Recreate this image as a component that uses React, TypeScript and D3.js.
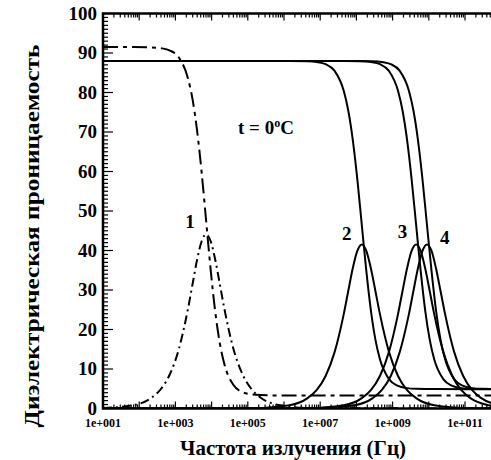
import React from "react";
import * as d3 from "d3";

// ---- Data (frequency in Hz, permittivity) ----
// Curve 1 (dash-dot)
const freq1 = [1e1, 7.08e1, 2.24e2, 3.98e2, 7.08e2, 1.26e3, 2.24e3, 2.99e3, 3.98e3, 5.31e3, 7.08e3, 9.44e3, 1.26e4, 1.68e4, 2.24e4, 3.98e4, 7.08e4, 1.26e5, 2.24e5, 7.08e5, 7.08e6, 1e12];
const eps1Real = [91.5, 91.49, 91.41, 91.22, 90.62, 88.8, 83.48, 78.18, 70.31, 59.75, 47.4, 35.05, 24.49, 16.62, 11.32, 6.0, 4.17, 3.58, 3.39, 3.31, 3.3, 3.3];
const eps1Imag = [0.12, 0.88, 2.79, 4.94, 8.73, 15.21, 25.36, 31.58, 37.68, 42.34, 44.1, 42.34, 37.68, 31.58, 25.36, 15.21, 8.73, 4.94, 2.79, 0.88, 0.09, 0];

// Curve 2
const freq2 = [1e1, 1e4, 1.41e5, 1.41e6, 4.47e6, 7.94e6, 1.41e7, 2.51e7, 4.47e7, 5.96e7, 7.94e7, 1.06e8, 1.41e8, 1.88e8, 2.51e8, 3.35e8, 4.47e8, 7.94e8, 1.41e9, 2.51e9, 4.47e9, 1.41e10, 1.41e11, 1e12];
const eps2Real = [88, 88, 88, 87.99, 87.92, 87.73, 87.17, 85.46, 80.45, 75.45, 68.03, 58.08, 46.45, 34.82, 24.87, 17.45, 12.45, 7.44, 5.72, 5.16, 4.98, 4.91, 4.9, 4.9];
const eps2Imag = [0, 0.01, 0.08, 0.83, 2.63, 4.65, 8.23, 14.33, 23.89, 29.75, 35.5, 39.89, 41.55, 39.89, 35.5, 29.75, 23.89, 14.33, 8.23, 4.65, 2.63, 0.83, 0.08, 0.01];

// Curve 3
const freq3 = [1e1, 1e5, 4.47e6, 4.47e7, 1.41e8, 2.51e8, 4.47e8, 7.94e8, 1.41e9, 1.88e9, 2.51e9, 3.35e9, 4.47e9, 5.96e9, 7.94e9, 1.06e10, 1.41e10, 2.51e10, 4.47e10, 7.94e10, 1.41e11, 4.47e11, 1e12];
const eps3Real = [88, 88, 88, 87.99, 87.92, 87.73, 87.17, 85.46, 80.45, 75.45, 68.03, 58.08, 46.45, 34.82, 24.87, 17.45, 12.45, 7.44, 5.72, 5.16, 4.98, 4.91, 4.9];
const eps3Imag = [0, 0, 0.08, 0.83, 2.63, 4.65, 8.23, 14.33, 23.89, 29.75, 35.5, 39.89, 41.55, 39.89, 35.5, 29.75, 23.89, 14.33, 8.23, 4.65, 2.63, 0.83, 0.37];

// Curve 4
const freq4 = [1e1, 1e5, 8.91e6, 8.91e7, 2.82e8, 5.01e8, 8.91e8, 1.58e9, 2.82e9, 3.76e9, 5.01e9, 6.68e9, 8.91e9, 1.19e10, 1.58e10, 2.11e10, 2.82e10, 5.01e10, 8.91e10, 1.58e11, 2.82e11, 8.91e11, 1e12];
const eps4Real = [88, 88, 88, 87.99, 87.92, 87.73, 87.17, 85.46, 80.45, 75.45, 68.03, 58.08, 46.45, 34.82, 24.87, 17.45, 12.45, 7.44, 5.72, 5.16, 4.98, 4.91, 4.9];
const eps4Imag = [0, 0, 0.08, 0.83, 2.63, 4.65, 8.23, 14.33, 23.89, 29.75, 35.5, 39.89, 41.55, 39.89, 35.5, 29.75, 23.89, 14.33, 8.23, 4.65, 2.63, 0.83, 0.74];

// Curve number labels: [frequency, value]
const curveLabels = ["1", "2", "3", "4"];
const curveLabelFreq = [2.53e3, 5.4e7, 1.87e9, 2.75e10];
const curveLabelValue = [45.7, 42.75, 43.1, 41.67];

const xLabelExponents = [1, 3, 5, 7, 9, 11];
const yTickValues = [0, 10, 20, 30, 40, 50, 60, 70, 80, 90, 100];

const xTitle = "Частота излучения (Гц)";
const yTitle = "Диэлектрическая проницаемость";

const FONT = "Liberation Serif, Tinos, Times New Roman, DejaVu Serif, serif";

export default function App() {
  const W = 491;
  const H = 460;
  const left = 103;
  const top = 13.5;
  const bottom = 408.5;
  const decadePx = 36.2;

  const x = d3.scaleLog().domain([1e1, 1e12]).range([left, left + 11 * decadePx]);
  const y = d3.scaleLinear().domain([0, 100]).range([bottom, top]);
  const right = x(1e12);

  const line = (fr: number[], vals: number[]) =>
    d3
      .line<number>()
      .x((_, i) => x(fr[i]))
      .y((v) => y(v))
      .curve(d3.curveMonotoneX)(vals) || "";

  const series = [
    { d: line(freq1, eps1Real), dash: "15,5,4,5" },
    { d: line(freq1, eps1Imag), dash: "9,4,2,4" },
    { d: line(freq2, eps2Real), dash: undefined },
    { d: line(freq2, eps2Imag), dash: undefined },
    { d: line(freq3, eps3Real), dash: undefined },
    { d: line(freq3, eps3Imag), dash: undefined },
    { d: line(freq4, eps4Real), dash: undefined },
    { d: line(freq4, eps4Imag), dash: undefined },
  ];

  const allXTicks = x.ticks(200);
  const isDecade = (t: number) => Math.abs(Math.log10(t) - Math.round(Math.log10(t))) < 1e-9;
  const xMajor = allXTicks.filter(isDecade);
  const xMinor = allXTicks.filter((t) => !isDecade(t));
  const yMinor = d3.range(0, 101, 1).filter((v) => v % 10 !== 0);

  return (
    <svg
      width={W}
      height={H}
      style={{ position: "absolute", left: 0, top: 0, fontFamily: FONT, fontWeight: 700 }}
    >
      <defs>
        <clipPath id="plotClip">
          <rect x={left} y={top} width={right - left} height={bottom - top} />
        </clipPath>
      </defs>
      <rect x={0} y={0} width={W} height={H} fill="#fff" />

      <g clipPath="url(#plotClip)">
        {series.map((s, i) => (
          <path
            key={i}
            d={s.d}
            fill="none"
            stroke="#000"
            strokeWidth={2}
            strokeDasharray={s.dash}
          />
        ))}
      </g>

      {/* ticks */}
      <g stroke="#000" strokeWidth={1.2}>
        {xMinor.map((t, i) => (
          <g key={"xm" + i}>
            <line x1={x(t)} x2={x(t)} y1={bottom} y2={bottom - 4} />
            <line x1={x(t)} x2={x(t)} y1={top} y2={top + 4} />
          </g>
        ))}
        {xMajor.map((t, i) => (
          <g key={"xM" + i}>
            <line x1={x(t)} x2={x(t)} y1={bottom} y2={bottom - 7} />
            <line x1={x(t)} x2={x(t)} y1={top} y2={top + 7} />
          </g>
        ))}
        {yMinor.map((v, i) => (
          <line key={"ym" + i} x1={left} x2={left + 5} y1={y(v)} y2={y(v)} />
        ))}
        {yTickValues.map((v, i) => (
          <line key={"yM" + i} x1={left} x2={left + 10} y1={y(v)} y2={y(v)} />
        ))}
      </g>

      {/* frame */}
      <rect
        x={left}
        y={top}
        width={right - left}
        height={bottom - top}
        fill="none"
        stroke="#000"
        strokeWidth={2.5}
      />

      {/* y tick labels */}
      {yTickValues.map((v) => (
        <text key={"yl" + v} x={left - 6} y={y(v)} dy="0.33em" textAnchor="end" fontSize={19}>
          {v}
        </text>
      ))}

      {/* x tick labels */}
      {xLabelExponents.map((e) => (
        <text key={"xl" + e} x={x(Math.pow(10, e))} y={427} textAnchor="middle" fontSize={12}>
          {`1e+${String(e).padStart(3, "0")}`}
        </text>
      ))}

      {/* curve labels */}
      {curveLabels.map((l, i) => (
        <text key={"cl" + i} x={x(curveLabelFreq[i])} y={y(curveLabelValue[i])} textAnchor="middle" fontSize={19}>
          {l}
        </text>
      ))}

      {/* temperature annotation */}
      <text x={x(5.36e4)} y={y(69.6)} fontSize={19}>
        {"t = 0"}
        <tspan dy={-7} fontSize={12}>o</tspan>
        <tspan dy={7}>C</tspan>
      </text>

      {/* axis titles */}
      <text x={293} y={455} textAnchor="middle" fontSize={21}>
        {xTitle}
      </text>
      <text
        transform={`translate(39,236) rotate(-90)`}
        textAnchor="middle"
        fontSize={22}
        textLength={383}
        lengthAdjust="spacingAndGlyphs"
      >
        {yTitle}
      </text>
    </svg>
  );
}
